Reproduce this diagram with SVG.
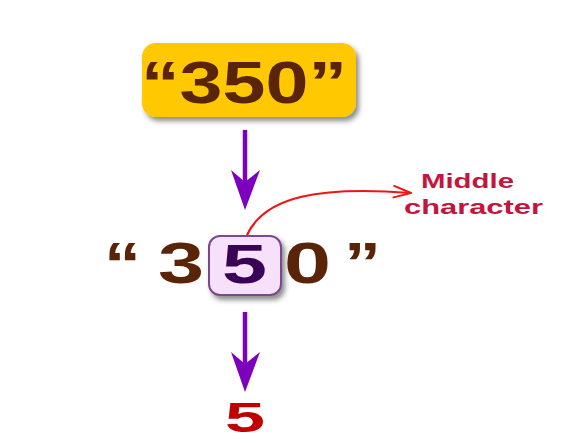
<svg xmlns="http://www.w3.org/2000/svg" width="588" height="443" viewBox="0 0 588 443">
<style>
.big{font-family:"Liberation Sans",Arial,sans-serif;font-weight:bold;fill:#5a2408}
.note{font-family:"Liberation Sans",Arial,sans-serif;font-weight:bold;fill:#c4153f;font-size:20px}
.arr{stroke:#7d00bf;stroke-width:4.5;fill:none}
</style>
<defs>
<filter id="sh" x="-20%" y="-20%" width="140%" height="150%">
<feDropShadow dx="3" dy="4" stdDeviation="2.5" flood-color="#333" flood-opacity="0.55"/>
</filter>
<marker id="red" viewBox="0 0 20 14" refX="19" refY="7" markerWidth="20" markerHeight="14" markerUnits="userSpaceOnUse" orient="auto">
<path d="M1,1 L19,7 L1,13" fill="none" stroke="#f01515" stroke-width="2"/>
</marker>
</defs>
<rect width="588" height="443" fill="#fff"/>
<g id="top">
<rect x="142" y="43" width="214" height="74" rx="14" fill="#ffc800" filter="url(#sh)"/>
<text class="big" x="141" y="103" font-size="60" textLength="206" lengthAdjust="spacingAndGlyphs">“350”</text>
</g>
<g id="middle">
<text class="big" x="104" y="283" font-size="57" textLength="37" lengthAdjust="spacingAndGlyphs">“</text>
<text class="big" x="158" y="283" font-size="57" textLength="46" lengthAdjust="spacingAndGlyphs">3</text>
<rect x="209" y="236" width="72" height="59" rx="11" fill="#f6e0fa" stroke="#7a4a8c" stroke-width="2" filter="url(#sh)"/>
<text class="big" x="222" y="283" font-size="56" textLength="45" lengthAdjust="spacingAndGlyphs" style="fill:#3a0456">5</text>
<text class="big" x="284" y="283" font-size="57" textLength="47" lengthAdjust="spacingAndGlyphs">0</text>
<text class="big" x="344" y="283" font-size="57" textLength="37" lengthAdjust="spacingAndGlyphs">”</text>
</g>
<g id="result">
<text x="225" y="432" font-family="Liberation Sans,Arial,sans-serif" font-weight="bold" font-size="43" fill="#c00000" textLength="40" lengthAdjust="spacingAndGlyphs">5</text>
</g>
<g id="label">
<text class="note" x="421" y="188" textLength="93" lengthAdjust="spacingAndGlyphs">Middle</text>
<text class="note" x="404" y="214" textLength="139" lengthAdjust="spacingAndGlyphs">character</text>
</g>
<g id="connectors">
<line class="arr" x1="245" y1="130" x2="245" y2="190"/>
<path d="M231,170 L245,210 L260,170 L245,182 Z" fill="#7d00bf"/>
<line class="arr" x1="245" y1="312" x2="245" y2="370"/>
<path d="M231,352 L245,392 L260,352 L245,364 Z" fill="#7d00bf"/>
<path d="M247,235 C265,196 320,186 411,193" fill="none" stroke="#f01515" stroke-width="2.2" marker-end="url(#red)"/>
</g>
</svg>
